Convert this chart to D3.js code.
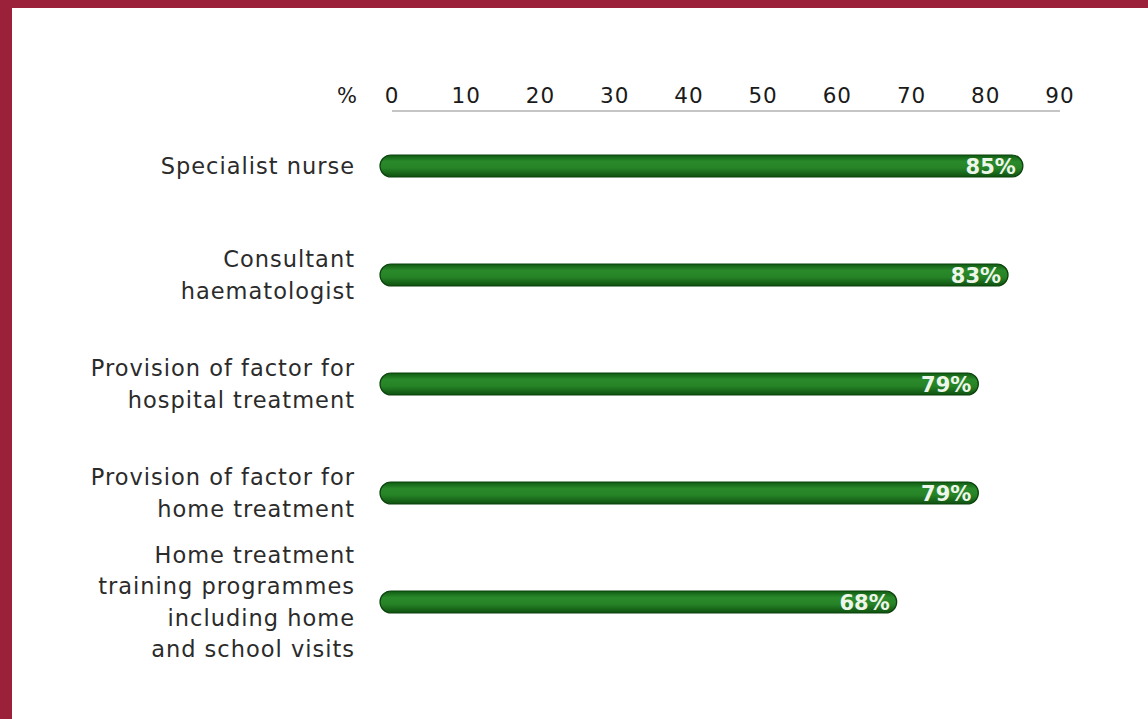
<!DOCTYPE html>
<html>
<head>
<meta charset="utf-8">
<script src="https://cdn.jsdelivr.net/npm/d3@7"></script>
<style>
  html, body { margin: 0; padding: 0; background: #fff; }
  svg { display: block; }
</style>
</head>
<body>
<svg id="chart" width="1148" height="719"></svg>
<script>
// Share of respondents reporting each service
const categories = [
  ["Specialist nurse"],
  ["Consultant", "haematologist"],
  ["Provision of factor for", "hospital treatment"],
  ["Provision of factor for", "home treatment"],
  ["Home treatment", "training programmes", "including home", "and school visits"]
];
const values = [85, 83, 79, 79, 68];
const tickValues = [0, 10, 20, 30, 40, 50, 60, 70, 80, 90];

const svg = d3.select("#chart");
const W = 1148, H = 719;

// Page frame
svg.append("rect").attr("width", W).attr("height", H).attr("fill", "#ffffff");
svg.append("rect").attr("x", 0).attr("y", 0).attr("width", W).attr("height", 8).attr("fill", "#9b2039");
svg.append("rect").attr("x", 0).attr("y", 0).attr("width", 12).attr("height", H).attr("fill", "#9b2039");

const font = "'DejaVu Sans', 'Open Sans', sans-serif";

const x = d3.scaleLinear().domain([0, 90]).range([392, 1060]);
const y = d3.scalePoint().domain(d3.range(values.length)).range([166, 602]);

// Bar fill gradient
const defs = svg.append("defs");
const grad = defs.append("linearGradient").attr("id", "barFill")
  .attr("x1", 0).attr("y1", 0).attr("x2", 0).attr("y2", 1);
grad.append("stop").attr("offset", "0%").attr("stop-color", "#0f5a12");
grad.append("stop").attr("offset", "30%").attr("stop-color", "#2a8a2a");
grad.append("stop").attr("offset", "60%").attr("stop-color", "#268326");
grad.append("stop").attr("offset", "100%").attr("stop-color", "#0e5010");

// Top axis
const axisG = svg.append("g").attr("transform", "translate(0,111)");
axisG.append("line")
  .attr("x1", x(0)).attr("x2", x(90))
  .attr("stroke", "#8c8c8c").attr("stroke-width", 1.2);
axisG.selectAll("text.tick").data(tickValues).join("text")
  .attr("class", "tick")
  .attr("x", d => x(d)).attr("y", -8)
  .attr("text-anchor", "middle")
  .attr("font-family", font).attr("font-size", 21.5)
  .attr("letter-spacing", 1)
  .attr("fill", "#1a1a1a")
  .text(d => d);
axisG.append("text")
  .attr("x", 347).attr("y", -8)
  .attr("text-anchor", "middle")
  .attr("font-family", font).attr("font-size", 21)
  .attr("fill", "#1a1a1a")
  .text("%");

// Bars
const barH = 22;
const capPad = 12;
const rows = svg.append("g").selectAll("g.row").data(values).join("g")
  .attr("class", "row")
  .attr("transform", (d, i) => `translate(0,${y(i)})`);

rows.append("rect")
  .attr("x", x(0) - capPad)
  .attr("y", -barH / 2)
  .attr("width", d => x(d) - x(0) + capPad)
  .attr("height", barH)
  .attr("rx", barH / 2)
  .attr("fill", "url(#barFill)")
  .attr("stroke", "#0b420d").attr("stroke-width", 1.2);

rows.append("text")
  .attr("x", d => x(d) - 7)
  .attr("y", 7.5)
  .attr("text-anchor", "end")
  .attr("font-family", font).attr("font-size", 21).attr("font-weight", 700)
  .attr("fill", "#eef6ea")
  .text(d => d + "%");

// Category labels
const lineH = 31.5;
rows.append("text")
  .attr("text-anchor", "end")
  .attr("font-family", font).attr("font-size", 22.5)
  .attr("letter-spacing", 1)
  .attr("fill", "#2b2b2b")
  .each(function (d, i) {
    const lines = categories[i];
    const t = d3.select(this);
    const start = -(lines.length - 1) * lineH / 2;
    lines.forEach((ln, k) => {
      t.append("tspan").attr("x", 355).attr("y", start + k * lineH + 8).text(ln);
    });
  });
</script>
</body>
</html>
